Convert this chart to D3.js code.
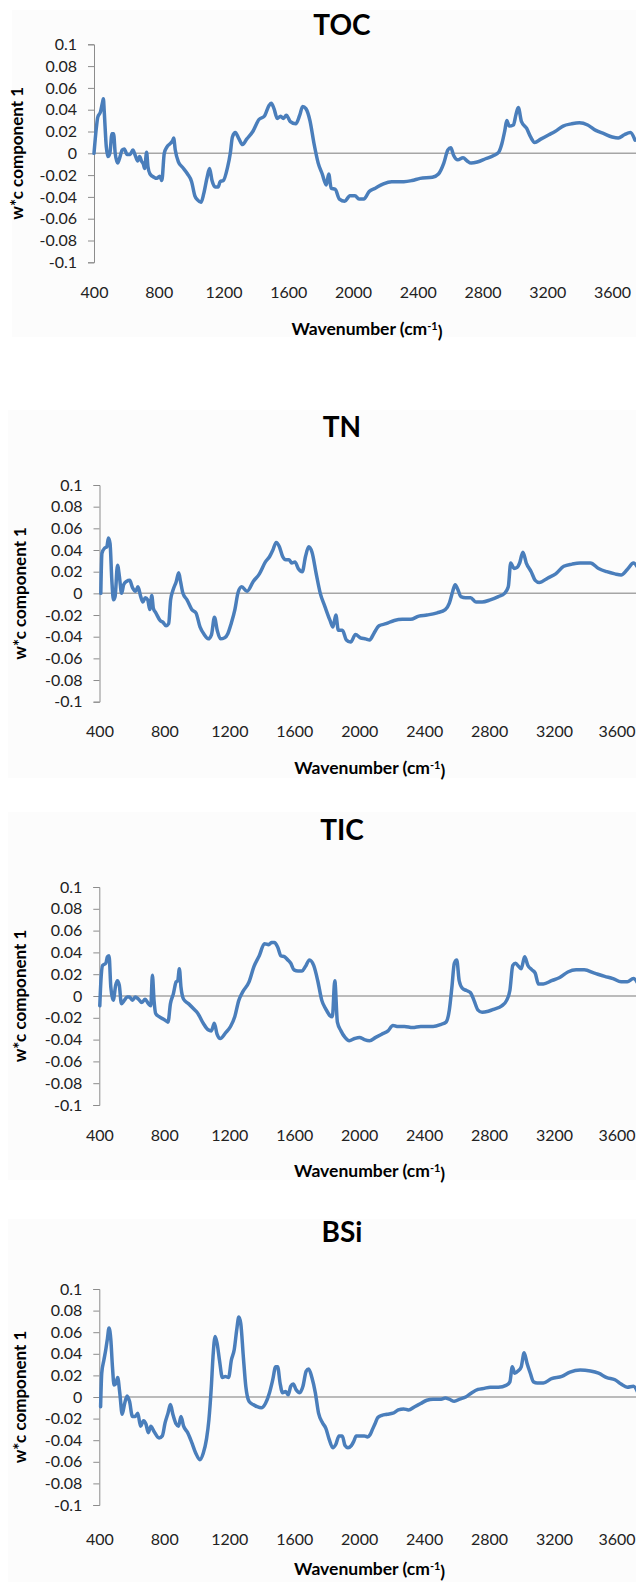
<!DOCTYPE html>
<html>
<head>
<meta charset="utf-8">
<script src="https://cdn.jsdelivr.net/npm/d3@7"></script>
<style>
  body { margin: 0; background: #fff; }
  svg { display: block; font-family: Lato, "Open Sans", sans-serif; }
</style>
</head>
<body>
<div id="chart"></div>
<script>
// Tick labels shared by all panels
const yTicks = [0.1, 0.08, 0.06, 0.04, 0.02, 0, -0.02, -0.04, -0.06, -0.08, -0.1];
const yTickLabels = ["0.1", "0.08", "0.06", "0.04", "0.02", "0", "-0.02", "-0.04", "-0.06", "-0.08", "-0.1"];
const xTicks = [400, 800, 1200, 1600, 2000, 2400, 2800, 3200, 3600];

// Panel titles
const titles = ["TOC", "TN", "TIC", "BSi"];

// TOC loading spectrum
const tocWn = [400, 415, 423, 440, 453, 458, 463, 476, 486, 498, 511, 521, 531, 546, 561, 574, 587, 604, 624, 640, 655, 670, 682, 693, 705, 713, 725, 733, 746, 771, 788, 806, 819, 834, 851, 872, 887, 892, 902, 922, 948, 978, 1003, 1023, 1041, 1061, 1078, 1099, 1114, 1129, 1149, 1167, 1179, 1199, 1225, 1242, 1255, 1273, 1293, 1318, 1343, 1381, 1419, 1452, 1482, 1495, 1512, 1532, 1553, 1570, 1588, 1613, 1646, 1671, 1689, 1709, 1734, 1759, 1785, 1810, 1835, 1850, 1865, 1890, 1916, 1949, 1981, 2012, 2037, 2067, 2100, 2138, 2188, 2239, 2314, 2364, 2415, 2490, 2528, 2561, 2586, 2604, 2622, 2647, 2680, 2705, 2730, 2768, 2819, 2869, 2900, 2920, 2938, 2950, 2965, 2991, 3006, 3021, 3041, 3072, 3097, 3122, 3160, 3210, 3248, 3298, 3349, 3399, 3450, 3500, 3550, 3601, 3639, 3676, 3714, 3742];
const tocVal = [0, 0.024, 0.033, 0.038, 0.047, 0.050, 0.039, 0.006, -0.003, 0, 0.018, 0.018, 0, -0.009, -0.003, 0.003, 0.004, -0.001, -0.001, 0.003, -0.002, -0.007, -0.003, -0.007, -0.010, -0.014, 0.001, -0.012, -0.019, -0.022, -0.023, -0.021, -0.025, 0, 0.006, 0.009, 0.012, 0.014, 0.003, -0.008, -0.013, -0.019, -0.026, -0.039, -0.043, -0.045, -0.037, -0.022, -0.014, -0.025, -0.031, -0.031, -0.026, -0.025, -0.013, 0, 0.015, 0.019, 0.014, 0.008, 0.013, 0.020, 0.031, 0.034, 0.044, 0.046, 0.041, 0.032, 0.034, 0.032, 0.035, 0.029, 0.027, 0.035, 0.043, 0.041, 0.030, 0.009, -0.009, -0.019, -0.029, -0.019, -0.032, -0.033, -0.042, -0.044, -0.039, -0.039, -0.042, -0.042, -0.035, -0.032, -0.028, -0.026, -0.026, -0.025, -0.023, -0.022, -0.019, -0.009, 0.003, 0.005, -0.002, -0.006, -0.004, -0.007, -0.009, -0.008, -0.005, -0.002, 0.001, 0.009, 0.021, 0.030, 0.025, 0.026, 0.035, 0.042, 0.029, 0.023, 0.015, 0.010, 0.013, 0.017, 0.020, 0.025, 0.027, 0.028, 0.026, 0.021, 0.018, 0.015, 0.014, 0.017, 0.019, 0.012];

// TN loading spectrum
const tnWn = [408, 415, 433, 445, 455, 465, 476, 486, 496, 511, 523, 536, 549, 566, 586, 604, 622, 637, 654, 667, 682, 697, 710, 722, 732, 747, 773, 793, 810, 826, 838, 853, 873, 888, 899, 914, 939, 969, 994, 1019, 1045, 1070, 1090, 1108, 1125, 1145, 1171, 1191, 1211, 1234, 1254, 1276, 1309, 1347, 1385, 1422, 1448, 1468, 1488, 1508, 1528, 1548, 1568, 1584, 1604, 1624, 1649, 1669, 1689, 1709, 1735, 1760, 1788, 1820, 1838, 1856, 1871, 1896, 1921, 1947, 1977, 2007, 2039, 2064, 2090, 2122, 2165, 2216, 2266, 2316, 2367, 2417, 2480, 2530, 2555, 2576, 2591, 2606, 2626, 2656, 2686, 2719, 2757, 2807, 2857, 2895, 2918, 2933, 2953, 2973, 2988, 3008, 3029, 3059, 3084, 3109, 3160, 3210, 3260, 3311, 3361, 3424, 3474, 3525, 3575, 3613, 3651, 3689, 3722];
const tnVal = [0, 0.037, 0.042, 0.043, 0.051, 0.046, 0.012, -0.006, -0.003, 0.026, 0.015, 0, 0.008, 0.011, 0.012, 0.005, 0.002, 0.006, -0.003, -0.008, -0.004, -0.006, -0.015, -0.002, -0.014, -0.018, -0.025, -0.027, -0.030, -0.028, -0.006, 0.003, 0.011, 0.019, 0.011, 0, -0.006, -0.015, -0.018, -0.031, -0.038, -0.042, -0.038, -0.022, -0.034, -0.042, -0.041, -0.037, -0.028, -0.015, 0.001, 0.006, 0.002, 0.011, 0.018, 0.029, 0.034, 0.040, 0.047, 0.043, 0.034, 0.031, 0.031, 0.028, 0.029, 0.023, 0.020, 0.034, 0.043, 0.038, 0.018, 0, -0.012, -0.025, -0.031, -0.020, -0.034, -0.034, -0.043, -0.045, -0.038, -0.041, -0.042, -0.043, -0.037, -0.030, -0.028, -0.025, -0.024, -0.024, -0.021, -0.020, -0.018, -0.015, -0.009, 0.002, 0.008, 0.004, -0.003, -0.004, -0.004, -0.008, -0.008, -0.006, -0.003, 0, 0.006, 0.028, 0.023, 0.024, 0.028, 0.038, 0.028, 0.020, 0.012, 0.010, 0.014, 0.018, 0.025, 0.027, 0.028, 0.028, 0.023, 0.020, 0.018, 0.017, 0.022, 0.028, 0.022];

// TIC loading spectrum
const ticWn = [403, 410, 420, 440, 450, 460, 471, 486, 501, 511, 523, 536, 554, 571, 586, 604, 622, 642, 662, 682, 702, 717, 727, 737, 747, 768, 793, 813, 823, 838, 856, 873, 883, 893, 903, 919, 949, 982, 1007, 1040, 1070, 1090, 1108, 1125, 1145, 1176, 1208, 1234, 1259, 1284, 1322, 1352, 1385, 1417, 1443, 1460, 1478, 1498, 1518, 1541, 1561, 1579, 1599, 1624, 1649, 1669, 1694, 1720, 1745, 1770, 1795, 1820, 1835, 1850, 1866, 1888, 1913, 1939, 1972, 2002, 2032, 2064, 2102, 2140, 2178, 2208, 2233, 2279, 2329, 2379, 2455, 2505, 2535, 2555, 2571, 2586, 2601, 2616, 2636, 2661, 2686, 2707, 2732, 2757, 2795, 2832, 2878, 2908, 2928, 2946, 2963, 2983, 2998, 3019, 3039, 3064, 3084, 3104, 3134, 3185, 3235, 3285, 3336, 3386, 3449, 3512, 3563, 3613, 3651, 3689, 3722];
const ticVal = [-0.009, 0.014, 0.028, 0.030, 0.036, 0.037, 0.008, -0.004, 0.010, 0.014, 0.010, -0.007, -0.004, -0.001, -0.001, -0.004, -0.001, -0.003, -0.006, -0.003, -0.007, -0.009, 0.019, -0.004, -0.016, -0.019, -0.021, -0.023, -0.024, -0.007, 0.002, 0.013, 0.014, 0.025, 0.008, -0.003, -0.007, -0.012, -0.016, -0.025, -0.031, -0.032, -0.025, -0.035, -0.039, -0.034, -0.028, -0.019, -0.004, 0.004, 0.013, 0.027, 0.037, 0.048, 0.047, 0.049, 0.049, 0.045, 0.037, 0.036, 0.033, 0.030, 0.024, 0.023, 0.023, 0.027, 0.033, 0.028, 0.014, -0.004, -0.012, -0.018, -0.019, 0.014, -0.024, -0.032, -0.038, -0.041, -0.039, -0.038, -0.040, -0.041, -0.038, -0.035, -0.032, -0.027, -0.028, -0.028, -0.029, -0.028, -0.028, -0.026, -0.024, -0.013, 0.008, 0.030, 0.033, 0.014, 0.007, 0.005, 0.003, -0.004, -0.013, -0.015, -0.014, -0.012, -0.009, -0.004, 0.005, 0.028, 0.030, 0.027, 0.025, 0.036, 0.028, 0.024, 0.021, 0.011, 0.011, 0.014, 0.017, 0.022, 0.024, 0.024, 0.021, 0.018, 0.016, 0.013, 0.013, 0.016, 0.010];

// BSi loading spectrum
const bsiWn = [408, 415, 428, 440, 450, 460, 471, 481, 491, 503, 513, 526, 541, 556, 571, 586, 604, 622, 637, 654, 672, 687, 702, 717, 737, 768, 788, 805, 823, 838, 853, 873, 888, 903, 919, 944, 969, 994, 1019, 1040, 1060, 1075, 1090, 1100, 1113, 1125, 1140, 1158, 1176, 1196, 1213, 1231, 1246, 1259, 1271, 1287, 1302, 1322, 1347, 1372, 1397, 1423, 1448, 1468, 1486, 1498, 1513, 1528, 1548, 1563, 1579, 1594, 1611, 1634, 1654, 1674, 1689, 1709, 1730, 1750, 1775, 1795, 1815, 1838, 1856, 1876, 1896, 1913, 1931, 1952, 1967, 1982, 2007, 2032, 2052, 2067, 2082, 2097, 2115, 2140, 2173, 2208, 2241, 2274, 2304, 2342, 2379, 2417, 2455, 2505, 2530, 2555, 2586, 2619, 2656, 2694, 2732, 2770, 2807, 2857, 2908, 2928, 2943, 2958, 2978, 2998, 3016, 3034, 3054, 3074, 3097, 3134, 3185, 3248, 3298, 3361, 3424, 3474, 3525, 3575, 3613, 3651, 3689, 3722];
const bsiVal = [-0.009, 0.022, 0.034, 0.044, 0.054, 0.064, 0.053, 0.028, 0.011, 0.013, 0.018, 0.004, -0.016, -0.006, 0.001, -0.004, -0.018, -0.018, -0.015, -0.027, -0.022, -0.025, -0.033, -0.027, -0.032, -0.038, -0.036, -0.024, -0.015, -0.007, -0.016, -0.025, -0.027, -0.018, -0.027, -0.033, -0.042, -0.052, -0.058, -0.052, -0.039, -0.021, 0.010, 0.037, 0.056, 0.050, 0.034, 0.018, 0.019, 0.018, 0.034, 0.044, 0.062, 0.074, 0.068, 0.037, 0.010, -0.004, -0.007, -0.009, -0.010, -0.006, 0.004, 0.016, 0.028, 0.028, 0.013, 0.004, 0.005, 0.002, 0.010, 0.012, 0.007, 0.004, 0.010, 0.024, 0.026, 0.018, 0.004, -0.015, -0.024, -0.029, -0.039, -0.047, -0.044, -0.036, -0.036, -0.045, -0.047, -0.045, -0.041, -0.036, -0.036, -0.036, -0.037, -0.035, -0.030, -0.025, -0.019, -0.017, -0.016, -0.015, -0.012, -0.011, -0.012, -0.009, -0.006, -0.003, -0.002, -0.002, -0.001, -0.002, -0.004, -0.002, 0, 0.004, 0.007, 0.008, 0.009, 0.009, 0.011, 0.014, 0.028, 0.022, 0.024, 0.028, 0.041, 0.031, 0.022, 0.014, 0.013, 0.013, 0.017, 0.019, 0.023, 0.025, 0.024, 0.022, 0.018, 0.016, 0.012, 0.009, 0.010, 0.002];

const seriesWn = [tocWn, tnWn, ticWn, bsiWn];
const seriesVal = [tocVal, tnVal, ticVal, bsiVal];

// Panel placement (pixels)
const panels = [
  { x0: 94,   x1: 612, yTop: 44.3, yBot: 262.3, titleY: 25,   xLabY: 292,   xTitleY: 329,    yLabX: 17, bgTop: 10,   bgBot: 337,  bgLeft: 12 },
  { x0: 99.5, x1: 619, yTop: 485,  yBot: 701.7, titleY: 427,  xLabY: 731.7, xTitleY: 768,    yLabX: 20, bgTop: 410,  bgBot: 778,  bgLeft: 8 },
  { x0: 99.3, x1: 619, yTop: 887,  yBot: 1105,  titleY: 830,  xLabY: 1135,  xTitleY: 1170.7, yLabX: 20, bgTop: 812,  bgBot: 1180, bgLeft: 8 },
  { x0: 99.3, x1: 619, yTop: 1289, yBot: 1505,  titleY: 1232, xLabY: 1539,  xTitleY: 1569,   yLabX: 20, bgTop: 1219, bgBot: 1582, bgLeft: 8 }
];

const W = 636, H = 1582;
const lineColor = "#4a7ebb";
const axisColor = "#8c8c8c";

const svg = d3.select("#chart")
  .append("svg")
  .attr("width", W)
  .attr("height", H);

panels.forEach((p, i) => {
  const g = svg.append("g");

  g.append("rect")
    .attr("x", p.bgLeft)
    .attr("y", p.bgTop)
    .attr("width", W - p.bgLeft)
    .attr("height", p.bgBot - p.bgTop)
    .attr("fill", "#fcfcfc");

  const x = d3.scaleLinear().domain([400, 3600]).range([p.x0, p.x1]);
  const y = d3.scaleLinear().domain([-0.1, 0.1]).range([p.yBot, p.yTop]);

  // y axis
  const yAxis = g.append("g")
    .attr("transform", `translate(${p.x0},0)`)
    .call(d3.axisLeft(y)
      .tickValues(yTicks)
      .tickFormat((d, j) => yTickLabels[j])
      .tickSize(6)
      .tickPadding(11));
  yAxis.select(".domain").attr("stroke", axisColor);
  yAxis.selectAll(".tick line").attr("stroke", axisColor);
  yAxis.selectAll(".tick text")
    .attr("fill", "#222")
    .style("font-size", "16px")
    .style("font-family", "Lato, sans-serif");

  // x tick labels, below the plot
  const xAxis = g.append("g")
    .attr("transform", `translate(0,${p.xLabY})`)
    .call(d3.axisBottom(x).tickValues(xTicks).tickFormat(d3.format("d")).tickSize(0).tickPadding(0));
  xAxis.select(".domain").remove();
  xAxis.selectAll(".tick text")
    .attr("y", 0)
    .attr("dy", "0.35em")
    .attr("fill", "#222")
    .style("font-size", "16px")
    .style("font-family", "Lato, sans-serif")
    .each(function(d) {
      // keep the last label inside the page
      const half = this.getComputedTextLength() / 2;
      const over = x(d) + half - (W - 1);
      if (over > 0) d3.select(this).attr("dx", -over);
    });

  // zero line
  g.append("line")
    .attr("x1", p.x0)
    .attr("x2", W)
    .attr("y1", y(0))
    .attr("y2", y(0))
    .attr("stroke", "#a6a6a6")
    .attr("stroke-width", 1.5);

  // spectrum
  const pts = seriesWn[i].map((w, j) => [w, seriesVal[i][j]]);
  g.append("path")
    .datum(pts)
    .attr("fill", "none")
    .attr("stroke", lineColor)
    .attr("stroke-width", 3.5)
    .attr("stroke-linejoin", "round")
    .attr("stroke-linecap", "round")
    .attr("d", d3.line().curve(d3.curveMonotoneX).x(d => x(d[0])).y(d => y(d[1])));

  // title
  g.append("text")
    .attr("x", 342)
    .attr("y", p.titleY)
    .attr("dy", "0.36em")
    .attr("text-anchor", "middle")
    .style("font-size", "28px")
    .style("font-weight", "bold")
    .text(titles[i]);

  // y label
  g.append("text")
    .attr("transform", `translate(${p.yLabX},${(p.yTop + p.yBot) / 2}) rotate(-90)`)
    .attr("dy", "0.35em")
    .attr("text-anchor", "middle")
    .style("font-size", "17px")
    .style("font-weight", "bold")
    .text("w*c component 1");

  // x label
  const xt = g.append("text")
    .attr("x", (p.x0 + W) / 2 + 2)
    .attr("y", p.xTitleY)
    .attr("dy", "0.35em")
    .attr("text-anchor", "middle")
    .style("font-size", "17.5px")
    .style("font-weight", "bold");
  xt.append("tspan").text("Wavenumber (cm");
  xt.append("tspan").attr("dy", "-0.45em").style("font-size", "11px").text("-1");
  xt.append("tspan").attr("dy", "0.45em").text(")");
});
</script>
</body>
</html>
